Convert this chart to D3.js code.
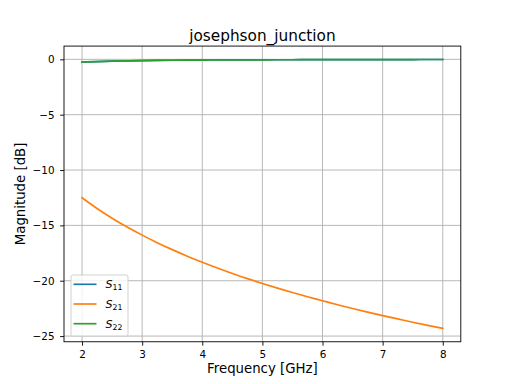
<!DOCTYPE html>
<html><head><meta charset="utf-8">
<script src="https://cdn.jsdelivr.net/npm/d3@7"></script>
<style>body{margin:0;background:#fff}svg{font-family:"DejaVu Sans",sans-serif}</style>
</head><body>
<script>
const freq = [2,2.25,2.5,2.75,3,3.25,3.5,3.75,4,4.25,4.5,4.75,5,5.25,5.5,5.75,6,6.25,6.5,6.75,7,7.25,7.5,7.75,8];
const s11 = [-0.25,-0.20,-0.162,-0.135,-0.113,-0.097,-0.084,-0.073,-0.064,-0.057,-0.051,-0.046,-0.041,-0.037,-0.034,-0.031,-0.029,-0.026,-0.024,-0.023,-0.021,-0.020,-0.018,-0.017,-0.016];
const s21 = [-12.50,-13.47,-14.35,-15.15,-15.88,-16.56,-17.19,-17.78,-18.33,-18.85,-19.34,-19.81,-20.25,-20.67,-21.07,-21.45,-21.81,-22.17,-22.51,-22.84,-23.15,-23.45,-23.75,-24.03,-24.30];
const s22 = [-0.25,-0.20,-0.162,-0.135,-0.113,-0.097,-0.084,-0.073,-0.064,-0.057,-0.051,-0.046,-0.041,-0.037,-0.034,-0.031,-0.029,-0.026,-0.024,-0.023,-0.021,-0.020,-0.018,-0.017,-0.016];
const xTicks = [2,3,4,5,6,7,8];
const yTicks = [0,-5,-10,-15,-20,-25];
const seriesNames = ["11","21","22"];
const colors = ["#1f77b4","#ff7f0e","#2ca02c"];

const W=512,H=384, L=64, R=460.8, T=46.08, B=341.76;
const svg=d3.select("body").append("svg").attr("width",W).attr("height",H);
const x=d3.scaleLinear().domain([1.7,8.3]).range([L,R]);
const y=d3.scaleLinear().domain([-25.514,1.198]).range([B,T]);

// grid
const g=svg.append("g");
g.selectAll(".gx").data(xTicks).enter().append("line")
 .attr("x1",d=>x(d)).attr("x2",d=>x(d)).attr("y1",T).attr("y2",B)
 .attr("stroke","#b0b0b0").attr("stroke-width",0.9);
g.selectAll(".gy").data(yTicks).enter().append("line")
 .attr("y1",d=>y(d)).attr("y2",d=>y(d)).attr("x1",L).attr("x2",R)
 .attr("stroke","#b0b0b0").attr("stroke-width",0.9);

// lines
const data=[s11,s21,s22];
const line=d3.line().x((d,i)=>x(freq[i])).y(d=>y(d)).curve(d3.curveMonotoneX);
svg.append("g").selectAll("path").data(data).enter().append("path")
 .attr("d",d=>line(d)).attr("fill","none").attr("stroke",(d,i)=>colors[i]).attr("stroke-width",1.67)
 .attr("stroke-linecap","square");

// axes
const fmt=d=>d<0?"\u2212"+Math.abs(d):String(d);
const xa=svg.append("g").attr("transform",`translate(0,${B})`)
 .call(d3.axisBottom(x).tickValues(xTicks).tickFormat(fmt).tickSize(3.9).tickPadding(4.6));
const ya=svg.append("g").attr("transform",`translate(${L},0)`)
 .call(d3.axisLeft(y).tickValues(yTicks).tickFormat(fmt).tickSize(3.9).tickPadding(5.6));
[xa,ya].forEach(a=>{a.select(".domain").remove();
 a.selectAll("text").attr("font-size","10.4px").attr("fill","#000").attr("font-family","DejaVu Sans");
 a.selectAll("line").attr("stroke","#000").attr("stroke-width",0.9);});
svg.append("rect").attr("x",L).attr("y",T).attr("width",R-L).attr("height",B-T)
 .attr("fill","none").attr("stroke","#000").attr("stroke-width",0.9);

// labels
svg.append("text").attr("x",(L+R)/2).attr("y",40.5).attr("text-anchor","middle").attr("font-size","15.3px").text("josephson_junction");
svg.append("text").attr("x",(L+R)/2).attr("y",372.5).attr("text-anchor","middle").attr("font-size","13.3px").text("Frequency [GHz]");
svg.append("text").attr("transform",`translate(25,${(T+B)/2}) rotate(-90)`).attr("text-anchor","middle").attr("font-size","13.3px").text("Magnitude [dB]");

// legend
const lg=svg.append("g");
lg.append("rect").attr("x",71).attr("y",275).attr("width",57).attr("height",61).attr("rx",2)
 .attr("fill","#fff").attr("fill-opacity",0.8).attr("stroke","#ccc").attr("stroke-width",0.9);
seriesNames.forEach((n,i)=>{
 const yy=284.3+i*19.7;
 lg.append("line").attr("x1",73.5).attr("x2",96.5).attr("y1",yy).attr("y2",yy).attr("stroke",colors[i]).attr("stroke-width",1.67);
 const t=lg.append("text").attr("x",105.5).attr("y",yy+4).attr("font-size","11.1px");
 t.append("tspan").attr("font-style","italic").text("S");
 t.append("tspan").attr("font-size","7.8px").attr("dy",2).text(n);
});
</script>
</body></html>
